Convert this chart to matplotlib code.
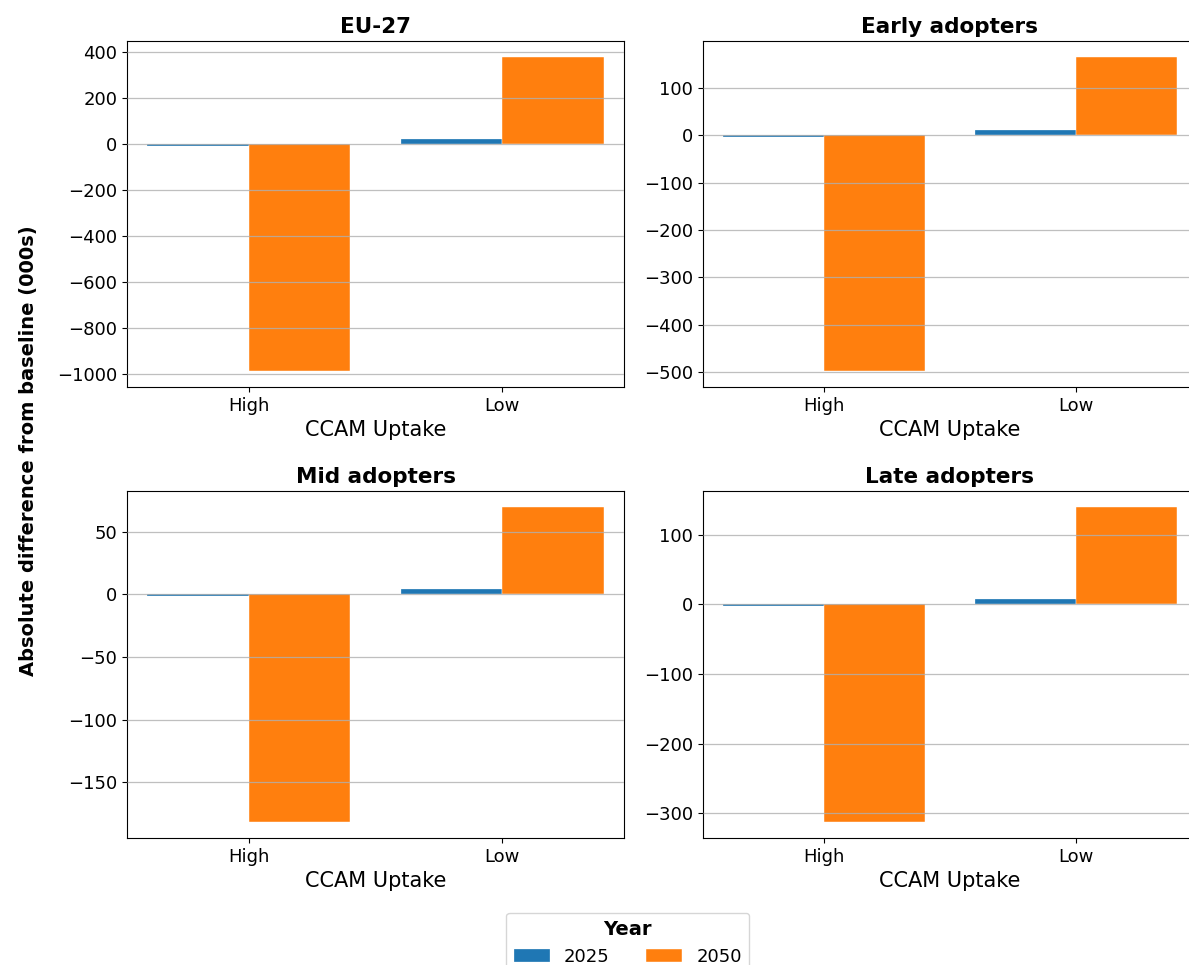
import numpy as np
import matplotlib.pyplot as plt

regions = ["EU-27", "Early adopters", "Mid adopters", "Late adopters"]
uptake = ["High", "Low"]
years = ["2025", "2050"]

# absolute difference from baseline (000s), per region: [High, Low]
vals_2025 = {
    "EU-27": [-9, 20],
    "Early adopters": [-3, 11],
    "Mid adopters": [-1.5, 4.5],
    "Late adopters": [-2.5, 7],
}
vals_2050 = {
    "EU-27": [-990, 378],
    "Early adopters": [-498, 166],
    "Mid adopters": [-182, 70],
    "Late adopters": [-313, 140],
}

colors = ["#1f77b4", "#ff7f0e"]

fig = plt.figure(figsize=(11.89, 9.65), dpi=100)
W, H = 1189, 965
boxes = [
    (127, 41, 497, 346),
    (703, 41, 494, 346),
    (127, 491, 497, 347),
    (703, 491, 494, 347),
]

x = np.arange(len(uptake))
w = 0.4
for reg, (l, t, bw, bh) in zip(regions, boxes):
    ax = fig.add_axes([l / W, 1 - (t + bh) / H, bw / W, bh / H])
    b1 = ax.bar(x - w / 2, vals_2025[reg], w, color=colors[0], edgecolor="white", linewidth=0.2, label=years[0])
    b2 = ax.bar(x + w / 2, vals_2050[reg], w, color=colors[1], edgecolor="white", linewidth=0.3, label=years[1])
    ax.set_xlim(-0.48, 1.48)
    ax.set_xticks(x)
    ax.set_xticklabels(uptake)
    ax.tick_params(labelsize=13)
    ax.set_axisbelow(False)
    ax.grid(axis="y", color="#b0b0b0", alpha=0.8, linewidth=0.9)
    ax.set_title(reg, fontsize=15.5, fontweight="bold")
    ax.set_xlabel("CCAM Uptake", fontsize=15)

fig.text(0.024, 0.533, "Absolute difference from baseline (000s)", rotation=90,
         ha="center", va="center", fontsize=14, fontweight="bold")

leg = fig.legend([b1, b2], years, loc="upper center", bbox_to_anchor=(0.528, 0.058),
                 ncol=2, fontsize=13, title="Year", title_fontproperties={"weight": "bold", "size": 14},
                 columnspacing=2.0, handlelength=2.0, handletextpad=0.8, borderaxespad=0.2)

fig.savefig("out.png", dpi=100)
